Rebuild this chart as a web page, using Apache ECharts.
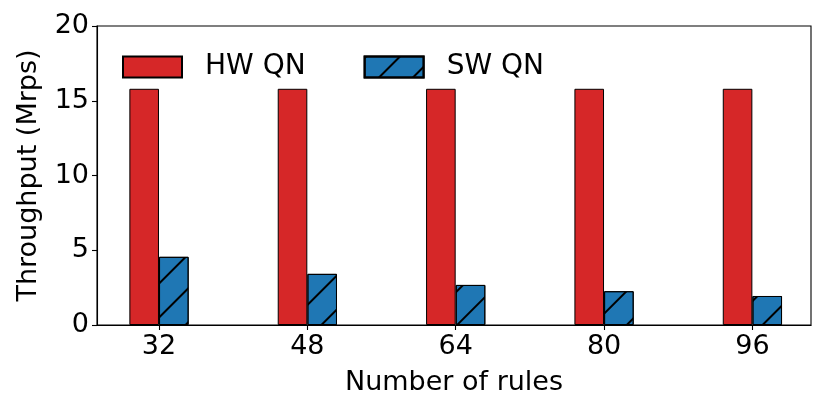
<!DOCTYPE html>
<html>
<head>
<meta charset="utf-8">
<script src="https://cdn.jsdelivr.net/npm/echarts@6/dist/echarts.min.js"></script>
<style>
  html, body { margin: 0; padding: 0; background: #fff; }
  #chart { width: 830px; height: 415px; }
</style>
</head>
<body>
<div id="chart"></div>
<script>
// data
var categories = ['32', '48', '64', '80', '96'];
var hwQN = [15.8, 15.8, 15.8, 15.8, 15.8];
var swQN = [4.56, 3.42, 2.68, 2.26, 1.94];
var yTicks = [0, 5, 10, 15, 20];

var FONT = 'DejaVu Sans';
var FS = 27;

// bar centres sit 0.1 left / right of each category position
function pairs(vals, shift) {
  return vals.map(function (v, i) { return [i + shift, v]; });
}

var chart = echarts.init(document.getElementById('chart'));
chart.setOption({
  animation: false,
  backgroundColor: '#fff',
  textStyle: { fontFamily: FONT },
  grid: {
    left: 97, right: 19, top: 26, bottom: 90,
    show: true, borderColor: '#000', borderWidth: 1.1,
    containLabel: false
  },
  legend: {
    left: 117, top: 48,
    icon: 'rect',
    itemWidth: 59, itemHeight: 21, itemGap: 58,
    textStyle: { fontSize: 28, color: '#000', fontFamily: FONT, padding: [0, 0, 0, 18] },
    data: ['HW QN', 'SW QN']
  },
  xAxis: {
    type: 'value',
    min: -0.418, max: 4.395,
    name: 'Number of rules',
    nameLocation: 'middle',
    nameGap: 44,
    nameTextStyle: { fontSize: FS, color: '#000', fontFamily: FONT },
    axisLine: { show: true, onZero: false, lineStyle: { color: '#000', width: 1.1 } },
    axisTick: { show: true, length: 5, customValues: [0, 1, 2, 3, 4], lineStyle: { color: '#000', width: 1.1 } },
    axisLabel: {
      customValues: [0, 1, 2, 3, 4],
      fontSize: FS, color: '#000', fontFamily: FONT, margin: 8,
      formatter: function (v) { return categories[Math.round(v)]; }
    },
    splitLine: { show: false }
  },
  yAxis: {
    type: 'value',
    min: 0, max: 20, interval: 5,
    name: 'Throughput (Mrps)',
    nameLocation: 'middle',
    nameGap: 55,
    nameTextStyle: { fontSize: FS, color: '#000', fontFamily: FONT },
    axisLine: { show: true, onZero: false, lineStyle: { color: '#000', width: 1.1 } },
    axisTick: { show: true, length: 5, lineStyle: { color: '#000', width: 1.1 } },
    axisLabel: { fontSize: FS, color: '#000', fontFamily: FONT, margin: 8 },
    splitLine: { show: false }
  },
  series: [
    {
      name: 'HW QN',
      type: 'bar',
      barWidth: 29.6,
      barGap: '-100%',
      itemStyle: { color: '#d62728', borderColor: '#000', borderWidth: 1 },
      data: pairs(hwQN, -0.1)
    },
    {
      name: 'SW QN',
      type: 'bar',
      barWidth: 29.6,
      barGap: '-100%',
      itemStyle: {
        color: '#1f77b4', borderColor: '#000', borderWidth: 1,
        decal: {
          symbol: 'rect',
          symbolSize: 1,
          color: '#000',
          dashArrayX: [1, 0],
          dashArrayY: [1.3, 22],
          rotation: -Math.PI / 4
        }
      },
      data: pairs(swQN, 0.1)
    }
  ]
});
</script>
</body>
</html>
